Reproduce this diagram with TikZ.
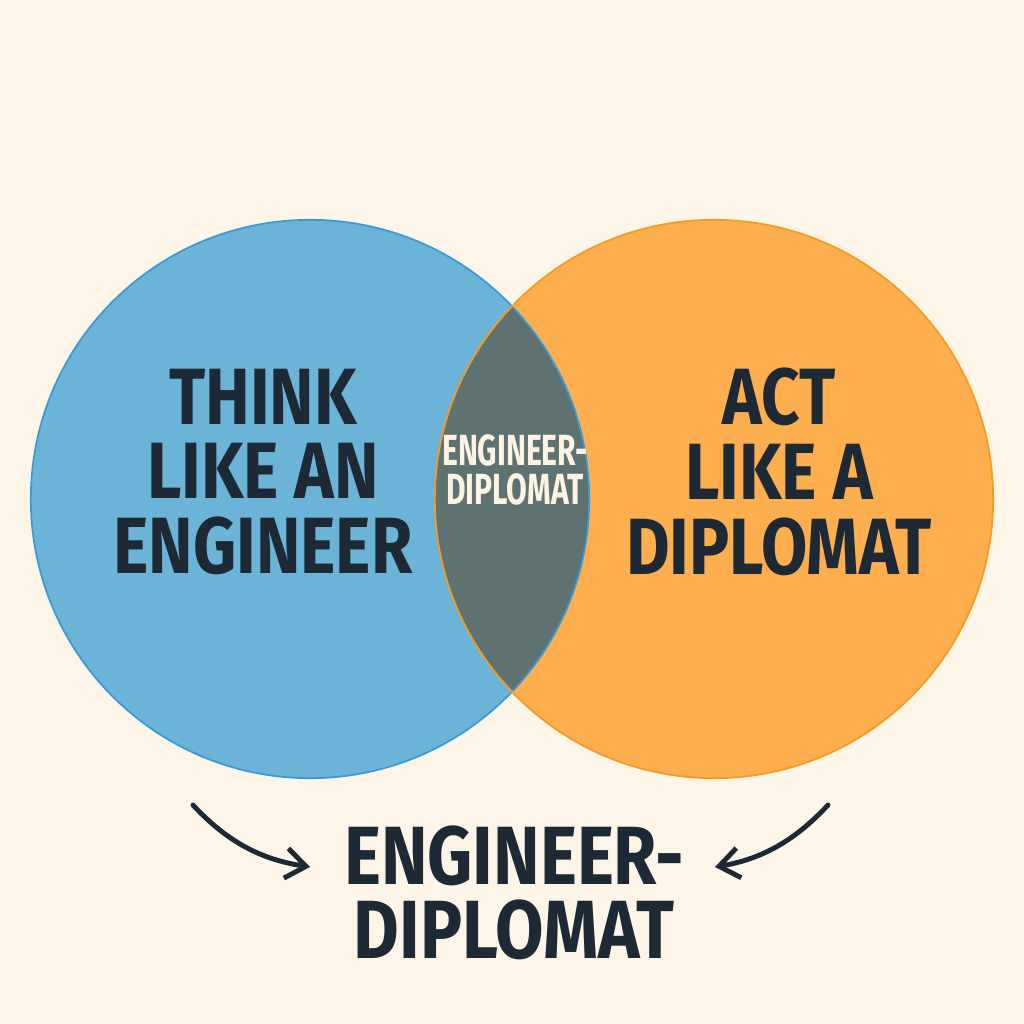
\documentclass[tikz,border=0pt]{standalone}
\usepackage{fontspec}
\usepackage{tikz}
\usetikzlibrary{arrows.meta, positioning}
\newfontfamily\headfont[FakeStretch=0.84]{Fira Sans}
\newfontfamily\footfont[FakeStretch=0.85]{Fira Sans}
\newfontfamily\lensfont[FakeStretch=0.69]{Fira Sans}
\definecolor{paper}{HTML}{FDF5E8}
\definecolor{engblue}{HTML}{6BB4D8}
\definecolor{engline}{HTML}{3A9AD9}
\definecolor{dipor}{HTML}{FDAE4E}
\definecolor{dipline}{HTML}{F79A22}
\definecolor{lensgrey}{HTML}{5E7371}
\definecolor{ink}{HTML}{1D2A35}
\definecolor{cream}{HTML}{FDF3E3}

\begin{document}
\begin{tikzpicture}[x=0.01cm, y=-0.01cm,
  Big/.style={font=\headfont\bfseries\fontsize{22.7}{21.3}\selectfont, text=ink, align=center, inner sep=0pt},
  Lens/.style={font=\lensfont\bfseries\fontsize{12.4}{11.2}\selectfont, text=cream, align=center, inner sep=0pt},
  Arr/.style={draw=ink, line width=1.4pt, line cap=round, -{Straight Barb[length=2mm, width=3mm]}}]
\fill[paper] (0,0) rectangle (1024,1024);
\useasboundingbox (0,0) rectangle (1024,1024);
% the two circles and their overlap
\node[circle, fill=engblue, minimum size=5.58cm, inner sep=0pt] (eng) at (310,499) {};
\node[circle, fill=dipor, minimum size=5.58cm, inner sep=0pt] (dip) at (714,499) {};
\begin{scope}
  \clip (eng.center) circle[radius=2.79cm];
  \fill[lensgrey] (dip.center) circle[radius=2.79cm];
\end{scope}
\draw[engline, line width=0.5pt] (eng.center) circle[radius=2.79cm];
\draw[dipline, line width=0.5pt] (dip.center) circle[radius=2.79cm];
% labels
\node[Big] (think) at (263,472) {THINK\\LIKE AN\\ENGINEER};
\node[Big] (act) at (779,472) {ACT\\LIKE A\\DIPLOMAT};
\node[Lens] (mid) at (515,470) {ENGINEER-\\DIPLOMAT};
\node[Big, font=\footfont\bfseries\fontsize{23.5}{21.2}\selectfont] (both) at (514,893) {ENGINEER-\\DIPLOMAT};
% arrows into the result
\coordinate (ls) at (193,805);
\coordinate (le) at (310,867);
\coordinate (rs) at (828,805);
\coordinate (re) at (715,867);
\draw[Arr] (ls) .. controls (230,845) and (265,860) .. (le);
\draw[Arr] (rs) .. controls (791,845) and (756,860) .. (re);
\end{tikzpicture}
\end{document}
